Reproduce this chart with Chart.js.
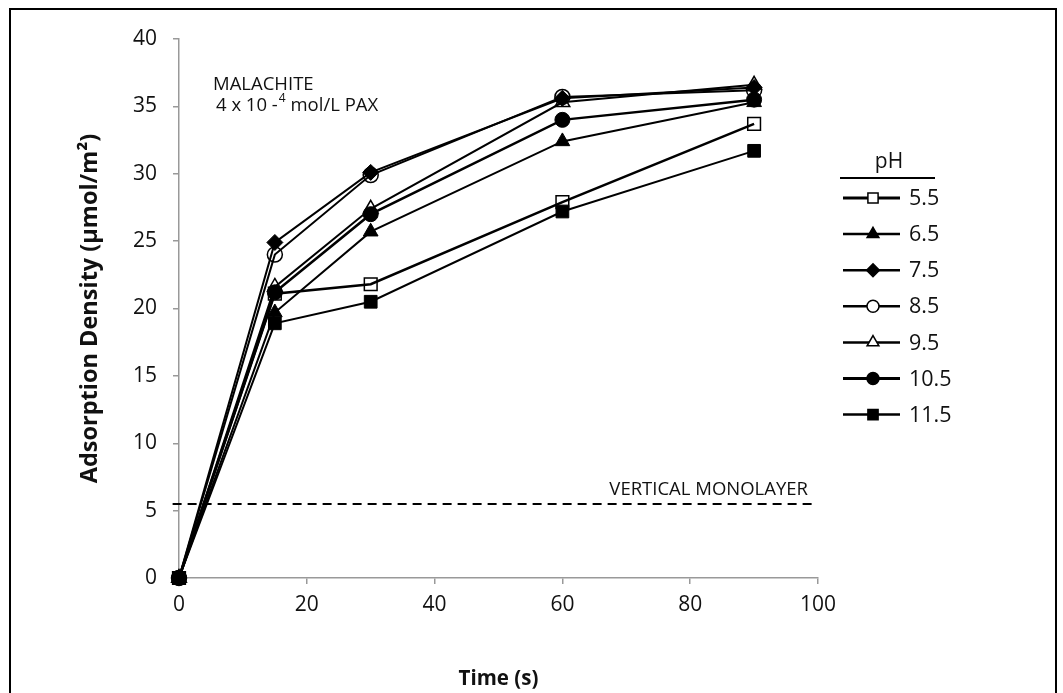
<!DOCTYPE html>
<html>
<head>
<meta charset="utf-8">
<script src="https://cdn.jsdelivr.net/npm/chart.js@4.4.1/dist/chart.umd.min.js"></script>
<style>
body { margin: 0; background: #fff; overflow: hidden; }
#wrap { position: relative; width: 1063px; height: 693px; }
#frame { position: absolute; left: 9px; top: 8px; width: 1044px; height: 700px; border: 2px solid #000; pointer-events: none; }
canvas { position: absolute; left: 0; top: 0; }
</style>
</head>
<body>
<div id="wrap">
  <canvas id="Chart" width="1063" height="693"></canvas>
  <div id="frame"></div>
</div>
<script>
"use strict";

// data
var times = [0, 15, 30, 60, 90];
var phLabels = ['5.5', '6.5', '7.5', '8.5', '9.5', '10.5', '11.5'];
var ph55 = [0, 21.1, 21.8, 27.9, 33.7];
var ph65 = [0, 19.7, 25.7, 32.4, 35.3];
var ph75 = [0, 24.9, 30.1, 35.6, 36.4];
var ph85 = [0, 24.0, 29.9, 35.7, 36.2];
var ph95 = [0, 21.6, 27.4, 35.3, 36.6];
var ph105 = [0, 21.2, 27.0, 34.0, 35.5];
var ph115 = [0, 18.9, 20.5, 27.2, 31.7];
var monolayerLevel = 5.5;
var monolayerX = [-1, 99.5];

var seriesValues = [ph55, ph65, ph75, ph85, ph95, ph105, ph115];

// marker looks
var markerStyle = ['rect', 'triangle', 'rectRot', 'circle', 'triangle', 'circle', 'rect'];
var markerFilled = [false, true, true, false, false, true, true];
var markerRadius = [9, 8.5, 8, 7.5, 8.5, 7.5, 9];
var lineWidths = [2.5, 2, 2, 2, 2, 2.5, 2];

var FONT = '"Open Sans", sans-serif';

function toPoints(xs, ys) {
  return xs.map(function (x, i) { return { x: x, y: ys[i] }; });
}

var datasets = seriesValues.map(function (vals, i) {
  return {
    label: phLabels[i],
    data: toPoints(times, vals),
    borderColor: '#000',
    borderWidth: lineWidths[i],
    pointStyle: markerStyle[i],
    pointRadius: markerRadius[i],
    pointBackgroundColor: markerFilled[i] ? '#000' : 'rgba(0,0,0,0)',
    pointBorderColor: '#000',
    pointBorderWidth: markerFilled[i] ? 1 : 1.5,
    tension: 0,
    clip: false
  };
});

datasets.push({
  label: 'monolayer',
  data: monolayerX.map(function (x) { return { x: x, y: monolayerLevel }; }),
  borderColor: '#000',
  borderWidth: 2,
  borderDash: [9, 6],
  pointRadius: 0,
  clip: false,
  order: 10
});

// simple marker painter for the legend
function drawMarker(ctx, style, x, y, r, filled) {
  ctx.beginPath();
  if (style === 'circle') {
    ctx.arc(x, y, r, 0, Math.PI * 2);
  } else if (style === 'rect') {
    var s = r * Math.SQRT1_2;
    ctx.rect(x - s, y - s, 2 * s, 2 * s);
  } else if (style === 'rectRot') {
    ctx.moveTo(x, y - r); ctx.lineTo(x + r, y); ctx.lineTo(x, y + r); ctx.lineTo(x - r, y);
    ctx.closePath();
  } else if (style === 'triangle') {
    ctx.moveTo(x, y - r);
    ctx.lineTo(x + r * 0.866, y + r * 0.5);
    ctx.lineTo(x - r * 0.866, y + r * 0.5);
    ctx.closePath();
  }
  ctx.fillStyle = filled ? '#000' : '#fff';
  ctx.fill();
  ctx.strokeStyle = '#000';
  ctx.lineWidth = 1.5;
  ctx.stroke();
}

var notesPlugin = {
  id: 'notes',
  afterDraw: function (chart) {
    var ctx = chart.ctx;
    ctx.save();
    ctx.fillStyle = '#111';
    ctx.textBaseline = 'middle';

    // top-left notes
    ctx.font = '18.5px ' + FONT;
    ctx.textAlign = 'left';
    ctx.fillText('MALACHITE', 213, 85);
    var t1 = '4 x 10 -';
    ctx.fillText(t1, 216, 106);
    var w1 = ctx.measureText(t1).width;
    ctx.font = '12px ' + FONT;
    ctx.fillText('4', 216 + w1 + 1, 99);
    var w2 = ctx.measureText('4').width;
    ctx.font = '18.5px ' + FONT;
    ctx.fillText(' mol/L PAX', 216 + w1 + 1 + w2, 106);

    // monolayer label
    ctx.font = '18.5px ' + FONT;
    ctx.textAlign = 'right';
    ctx.fillText('VERTICAL MONOLAYER', 808, 490);

    // legend
    ctx.textAlign = 'center';
    ctx.font = '21px ' + FONT;
    ctx.fillText('pH', 889, 162);
    ctx.beginPath();
    ctx.moveTo(840, 178);
    ctx.lineTo(935, 178);
    ctx.lineWidth = 2;
    ctx.strokeStyle = '#000';
    ctx.stroke();

    ctx.textAlign = 'left';
    ctx.font = '21.5px ' + FONT;
    phLabels.forEach(function (lab, i) {
      var y = 198 + i * 36.1;
      ctx.beginPath();
      ctx.moveTo(843, y);
      ctx.lineTo(900, y);
      ctx.lineWidth = lineWidths[i] + 0.5;
      ctx.strokeStyle = '#000';
      ctx.stroke();
      drawMarker(ctx, markerStyle[i], 873, y, markerRadius[i] * 0.8, markerFilled[i]);
      ctx.fillStyle = '#111';
      ctx.fillText(lab, 909, y + 1);
    });
    ctx.restore();
  }
};

var ctx = document.getElementById('Chart').getContext('2d');
var chart = new Chart(ctx, {
  type: 'line',
  data: { datasets: datasets },
  options: {
    responsive: false,
    animation: false,
    devicePixelRatio: 1,
    layout: { padding: { left: 76, right: 245, top: 39, bottom: 0 } },
    plugins: {
      legend: { display: false },
      tooltip: { enabled: false }
    },
    scales: {
      x: {
        type: 'linear',
        min: 0,
        max: 100,
        ticks: { stepSize: 20, color: '#111', padding: 8, font: { family: FONT, size: 21 } },
        grid: { display: true, drawOnChartArea: false, drawTicks: true, tickLength: 6, color: '#999', lineWidth: 1.5 },
        border: { color: '#999', width: 1.5 },
        title: { display: true, text: 'Time (s)', color: '#111', padding: { top: 0, bottom: 2 }, font: { family: FONT, size: 20.5, weight: 'bold' } },
        afterFit: function (scale) { scale.height = 115; }
      },
      y: {
        min: 0,
        max: 40,
        ticks: { stepSize: 5, color: '#111', padding: 16, font: { family: FONT, size: 21 } },
        grid: { display: true, drawOnChartArea: false, drawTicks: true, tickLength: 6, color: '#999', lineWidth: 1.5 },
        border: { color: '#999', width: 1.5 },
        title: { display: true, text: 'Adsorption Density (µmol/m²)', color: '#111', padding: { top: 0, bottom: 0 }, font: { family: FONT, size: 23.5, weight: 'bold' } },
        afterFit: function (scale) { scale.width = 103; }
      }
    }
  },
  plugins: [notesPlugin]
});
</script>
</body>
</html>
